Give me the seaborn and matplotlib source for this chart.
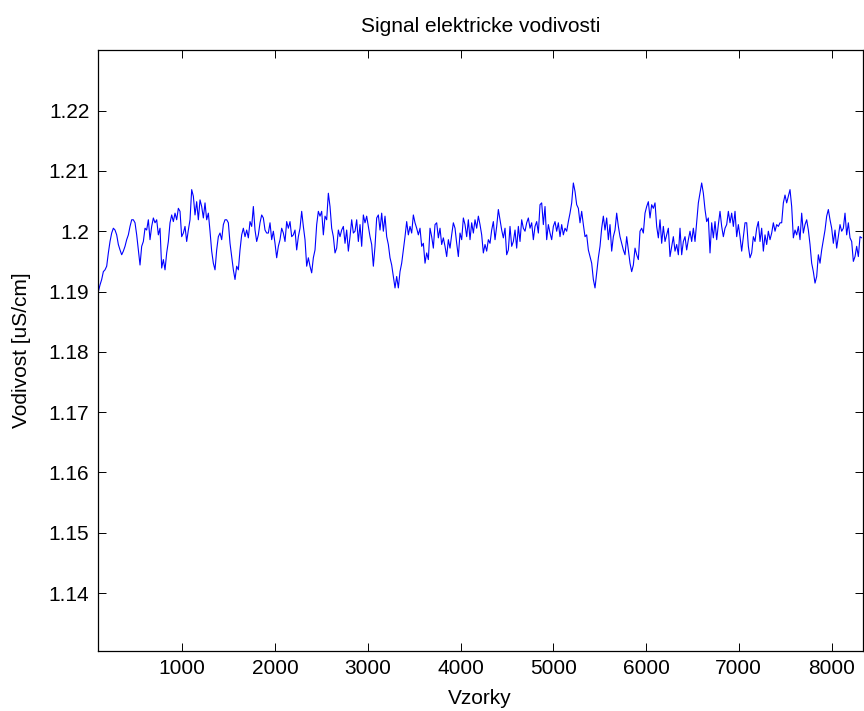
import numpy as np
import pandas as pd
import matplotlib
matplotlib.use("Agg")
import matplotlib.pyplot as plt
from matplotlib.ticker import FixedLocator, FuncFormatter
import seaborn as sns

# Conductivity signal [uS/cm], decimated, split into consecutive blocks
vodivost_a = [
    1.1900, 1.1911, 1.1920, 1.1933, 1.1936, 1.1942, 1.1964, 1.1983, 1.1997, 1.2005,
    1.2002, 1.1994, 1.1978, 1.1969, 1.1961, 1.1967, 1.1975, 1.1986, 1.1994, 1.2008,
    1.2019, 1.2019, 1.2014, 1.1994, 1.1969, 1.1944, 1.1975, 1.1983, 1.2005, 1.2002,
    1.2019, 1.1986, 1.2008, 1.2022, 1.2014, 1.2019, 1.1994, 1.2005, 1.1939, 1.1953,
    1.1936, 1.1964, 1.1983, 1.2014, 1.2027, 1.2016, 1.2030, 1.2019, 1.2038, 1.2033,
    1.1991, 1.1997, 1.2008, 1.1983, 1.2002, 1.2019, 1.2069, 1.2058, 1.2027, 1.2049,
    1.2019, 1.2052, 1.2041, 1.2022, 1.2047, 1.2019, 1.2030, 1.2000, 1.1967, 1.1947,
    1.1936, 1.1969, 1.1991, 1.1997, 1.1986, 1.2011, 1.2019,
]
vodivost_b = [
    1.2019, 1.2014, 1.1980, 1.1958, 1.1936, 1.1920, 1.1942, 1.1936, 1.1969, 1.1994,
    1.2005, 1.1991, 1.2002, 1.1989, 1.2016, 1.2008, 1.2041, 1.2002, 1.1983, 1.1994,
    1.2014, 1.2027, 1.2022, 1.2002, 1.1997, 1.1997, 1.2014, 1.1986, 1.2000, 1.1980,
    1.1956, 1.1975, 1.1986, 1.2005, 1.1997, 1.1983, 1.2016, 1.2005, 1.2016, 1.1991,
    1.1994, 1.2002, 1.1969, 1.1991, 1.2005, 1.2033, 1.2008, 1.1986, 1.1942, 1.1956,
    1.1942, 1.1931, 1.1956, 1.1969, 1.2011, 1.2033, 1.2025, 1.2033, 1.1994, 1.2025,
    1.2019, 1.2063, 1.2041, 1.2005, 1.1991, 1.1964, 1.1972, 1.2002, 1.1991, 1.2002,
    1.2008, 1.1980, 1.2002, 1.1967, 1.1991, 1.2019, 1.1997, 1.2000,
]
vodivost_c = [
    1.2019, 1.1983, 1.2011, 1.1975, 1.2027, 1.2014, 1.2025, 1.2008, 1.1991, 1.1978,
    1.1942, 1.1975, 1.2022, 1.2027, 1.2002, 1.2030, 1.2000, 1.2025, 1.1991, 1.1978,
    1.1956, 1.1944, 1.1925, 1.1906, 1.1925, 1.1906, 1.1933, 1.1947, 1.1969, 1.1991,
    1.2016, 1.1994, 1.2008, 1.1997, 1.2027, 1.2014, 1.2005, 1.1994, 1.2005, 1.1975,
    1.1980, 1.1947, 1.1964, 1.1953, 1.2005, 1.1991, 1.1972, 1.2011, 1.2014, 1.1989,
    1.2005, 1.1978, 1.1989, 1.1975, 1.1958, 1.1986, 1.1972, 1.1994, 1.2014, 1.2005,
    1.1980, 1.1958, 1.1997, 1.1986, 1.2022, 1.2011, 1.1991, 1.2019, 1.1986, 1.2014,
    1.1997, 1.2019, 1.2005, 1.2025, 1.2011, 1.1994, 1.1964, 1.1978,
]
vodivost_d = [
    1.1967, 1.1986, 1.1980, 1.2002, 1.2016, 1.1986, 1.2008, 1.2036, 1.2019, 1.2002,
    1.1989, 1.2005, 1.1961, 1.1969, 1.2008, 1.1975, 1.1983, 1.2002, 1.1972, 1.2008,
    1.1983, 1.2019, 1.2005, 1.2000, 1.2014, 1.2022, 1.2005, 1.2014, 1.1986, 1.2008,
    1.2016, 1.1997, 1.2044, 1.2047, 1.2011, 1.2041, 1.1986, 1.2011, 1.1997, 1.1986,
    1.2008, 1.2016, 1.2000, 1.2014, 1.1991, 1.2011, 1.1994, 1.2005, 1.2000, 1.2016,
    1.2030, 1.2047, 1.2080, 1.2066, 1.2044, 1.2038, 1.2014, 1.2033, 1.2011, 1.1991,
    1.1994, 1.1969, 1.1958, 1.1947, 1.1920, 1.1906, 1.1931, 1.1956, 1.1975, 1.2005,
    1.2025, 1.2002, 1.2022, 1.1986, 1.2011, 1.1967, 1.1991, 1.2002,
]
vodivost_e = [
    1.2030, 1.2008, 1.1991, 1.1980, 1.1969, 1.1961, 1.1991, 1.1969, 1.1947, 1.1933,
    1.1944, 1.1972, 1.1961, 1.1953, 1.2000, 1.2005, 1.1997, 1.2030, 1.2041, 1.2049,
    1.2022, 1.2044, 1.2038, 1.2047, 1.2008, 1.1989, 1.2019, 1.1980, 1.2008, 1.1983,
    1.1994, 1.2005, 1.1958, 1.1975, 1.1991, 1.1967, 1.1978, 1.1961, 1.2005, 1.1961,
    1.1983, 1.1991, 1.1969, 1.1986, 1.2000, 1.1983, 1.2005, 1.1983, 1.2014, 1.2047,
    1.2063, 1.2080, 1.2063, 1.2036, 1.2016, 1.2022, 1.1964, 1.2014, 1.1989, 1.2016,
    1.1986, 1.2011, 1.2033, 1.2008, 1.1991, 1.2005, 1.2011, 1.2033, 1.2014, 1.2030,
    1.2008, 1.2033, 1.1991, 1.2011, 1.1991, 1.1967, 1.1991, 1.2014,
]
vodivost_f = [
    1.2014, 1.1975, 1.1956, 1.1964, 1.1991, 1.1983, 1.2005, 1.2016, 1.1983, 1.2005,
    1.1967, 1.1994, 1.1978, 1.2000, 1.1986, 1.1997, 1.2014, 1.2000, 1.2011, 1.2008,
    1.2014, 1.2014, 1.2047, 1.2060, 1.2047, 1.2058, 1.2069, 1.2041, 1.1989, 1.2002,
    1.1994, 1.2008, 1.1986, 1.2030, 1.1997, 1.2011, 1.2019, 1.2002, 1.1978, 1.1947,
    1.1933, 1.1914, 1.1925, 1.1961, 1.1947, 1.1969, 1.1986, 1.2002, 1.2025, 1.2036,
    1.2019, 1.2005, 1.1980, 1.2002, 1.1972, 1.1991, 1.2011, 1.2000, 1.2005, 1.2030,
    1.1994, 1.2014, 1.1989, 1.1983, 1.1950, 1.1958, 1.1975, 1.1958, 1.1991, 1.1989,
]

first_sample = 95
last_sample = 8325

x_ticks = [1000, 2000, 3000, 4000, 5000, 6000, 7000, 8000]
y_ticks = [1.14, 1.15, 1.16, 1.17, 1.18, 1.19, 1.20, 1.21, 1.22]

title_text = "Signal elektricke vodivosti"
x_label = "Vzorky"
y_label = "Vodivost [uS/cm]"

values = np.concatenate([vodivost_a, vodivost_b, vodivost_c,
                         vodivost_d, vodivost_e, vodivost_f])
samples = np.linspace(first_sample, last_sample, len(values))
df = pd.DataFrame({"vzorek": samples, "vodivost": values})

sns.set_style("white")
plt.rcParams["font.family"] = ["Liberation Sans", "DejaVu Sans"]

fig = plt.figure(figsize=(8.64, 7.11), dpi=100)
ax = fig.add_axes([97.7 / 864, 1 - 651 / 711, 765 / 864, 600.7 / 711])

sns.lineplot(data=df, x="vzorek", y="vodivost", ax=ax, color=(0, 0, 1),
             linewidth=0.8, estimator=None, sort=False)

ax.set_xlim(88, 8336)
ax.set_ylim(1.1304, 1.2300)
ax.xaxis.set_major_locator(FixedLocator(x_ticks))
ax.yaxis.set_major_locator(FixedLocator(y_ticks))
ax.yaxis.set_major_formatter(FuncFormatter(lambda v, _: f"{v:g}"))
ax.xaxis.set_major_formatter(FuncFormatter(lambda v, _: f"{v:g}"))

for side in ["left", "right", "top", "bottom"]:
    ax.spines[side].set_visible(True)
    ax.spines[side].set_color("black")
    ax.spines[side].set_linewidth(0.9)

ax.tick_params(axis="both", which="major", direction="in", length=6,
               width=0.7, color="black", labelsize=15, labelcolor="black",
               top=True, right=True, bottom=True, left=True, pad=6)

ax.set_title(title_text, fontsize=15, pad=13, color="black")
ax.set_xlabel(x_label, fontsize=15, labelpad=8, color="black")
ax.set_ylabel(y_label, fontsize=15, labelpad=13, color="black")
ax.grid(False)

fig.savefig("out.png", dpi=100, facecolor="white")
